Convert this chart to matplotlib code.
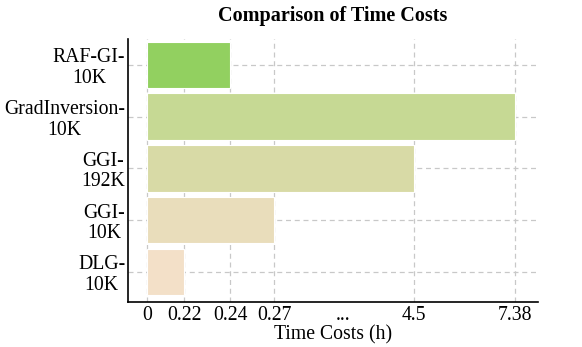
import numpy as np
import matplotlib
matplotlib.use("Agg")
import matplotlib.pyplot as plt

plt.rcParams['font.family'] = ['Liberation Serif', 'DejaVu Serif']

## Data
methods = ['DLG-\n10K', 'GGI-\n10K', 'GGI-\n192K', 'GradInversion-\n10K', 'RAF-GI-\n10K']
time_costs = [0.22, 0.27, 4.5, 7.38, 0.24]
colors = ['#F3E0C8', '#E9DDBB', '#D8DAA6', '#C6D994', '#92D060']

tick_values = [0, 0.22, 0.24, 0.27, 4.5, 7.38]
tick_labels = ['0', '0.22', '0.24', '0.27', '4.5', '7.38']
# position of each tick on the broken axis (arbitrary units)
tick_pos = [0, 37, 83, 127, 267, 368]
dots_pos = 196


## Piecewise linear axis scale
v = np.array(tick_values, float)
p = np.array(tick_pos, float)
s0 = (p[1] - p[0]) / (v[1] - v[0])
s1 = (p[-1] - p[-2]) / (v[-1] - v[-2])


def fwd(x):
    x = np.asarray(x, float)
    out = np.interp(x, v, p)
    out = np.where(x < v[0], p[0] + (x - v[0]) * s0, out)
    out = np.where(x > v[-1], p[-1] + (x - v[-1]) * s1, out)
    return out


def inv(y):
    y = np.asarray(y, float)
    out = np.interp(y, p, v)
    out = np.where(y < p[0], v[0] + (y - p[0]) / s0, out)
    out = np.where(y > p[-1], v[-1] + (y - p[-1]) / s1, out)
    return out


fig = plt.figure(figsize=(5.82, 3.47), dpi=100)
ax = fig.add_axes([128 / 582, 1 - 302 / 347, 410 / 582, 263 / 347])
ax.set_xscale('function', functions=(fwd, inv))

y = np.arange(len(methods))
ax.barh(y, time_costs, height=0.9, color=colors, edgecolor='white',
        linewidth=0.8, zorder=2)

dots_val = float(inv(dots_pos))
ax.set_xticks(tick_values + [dots_val])
ax.set_xticklabels(tick_labels + ['...'])
ax.set_xlim(float(inv(-19)), float(inv(391)))
ax.set_ylim(-0.58, 4.5)
ax.set_yticks(y)
ax.set_yticklabels(methods, linespacing=1.1, multialignment='center')

ax.grid(True, linestyle=(0, (4, 3)), color='#c8c8c8', linewidth=0.9, zorder=0)
ax.set_axisbelow(True)
# no grid line under the "..." label
ax.xaxis.get_gridlines()[-1].set_visible(False)

ax.tick_params(axis='both', length=0, labelsize=14.2)
ax.tick_params(axis='x', pad=3)
ax.tick_params(axis='y', pad=2)
for side in ['top', 'right']:
    ax.spines[side].set_visible(False)
ax.spines['left'].set_linewidth(1.2)
ax.spines['bottom'].set_linewidth(1.2)

ax.set_xlabel('Time Costs (h)', fontsize=14.2, labelpad=0)
ax.set_title('Comparison of Time Costs', fontsize=14.5, fontweight='bold', pad=13)

fig.savefig('out.png', dpi=100)
